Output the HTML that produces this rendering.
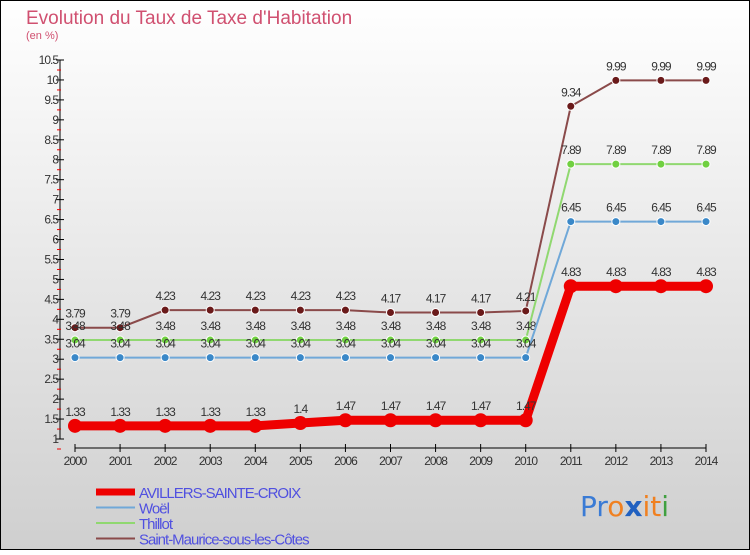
<!DOCTYPE html>
<html><head><meta charset="utf-8"><style>
body{margin:0;width:750px;height:550px;overflow:hidden;font-family:"Liberation Sans",sans-serif}
</style></head><body>
<svg id="c" width="750" height="550" xmlns="http://www.w3.org/2000/svg">
<defs><linearGradient id="bg" x1="0" y1="0" x2="0" y2="1"><stop offset="0" stop-color="#ffffff"/><stop offset="1" stop-color="#cfcfcf"/></linearGradient></defs>
<rect x="0.5" y="0.5" width="749" height="549" fill="url(#bg)" stroke="#000"/>
<text x="26" y="24" font-size="19" fill="#d05070">Evolution du Taux de Taxe d'Habitation</text>
<text x="26" y="39" font-size="11" fill="#d05070">(en %)</text>
<g id="axes"></g><g id="series"></g><g id="legend"></g>
<text x="580" y="516" font-size="28" font-family="'DejaVu Sans',sans-serif"><tspan fill="#3a7bd5">Pr</tspan><tspan fill="#f08020">o</tspan><tspan fill="#2060c0" font-weight="bold">x</tspan><tspan fill="#f08020">it</tspan><tspan fill="#40a040">i</tspan></text>
</svg>
<script>
const years=[2000,2001,2002,2003,2004,2005,2006,2007,2008,2009,2010,2011,2012,2013,2014];
const avillers=[1.33,1.33,1.33,1.33,1.33,1.4,1.47,1.47,1.47,1.47,1.47,4.83,4.83,4.83,4.83];
const woel=[3.04,3.04,3.04,3.04,3.04,3.04,3.04,3.04,3.04,3.04,3.04,6.45,6.45,6.45,6.45];
const thillot=[3.48,3.48,3.48,3.48,3.48,3.48,3.48,3.48,3.48,3.48,3.48,7.89,7.89,7.89,7.89];
const stmaurice=[3.79,3.79,4.23,4.23,4.23,4.23,4.23,4.17,4.17,4.17,4.21,9.34,9.99,9.99,9.99];
const yTicks=[1,1.5,2,2.5,3,3.5,4,4.5,5,5.5,6,6.5,7,7.5,8,8.5,9,9.5,10,10.5];
const NS="http://www.w3.org/2000/svg";
const X=i=>75+i*(706-75)/(years.length-1);
const Y=v=>439-(v-1)*(439-60)/9.5;
function mk(p,t,a){const e=document.createElementNS(NS,t);for(const k in a)e.setAttribute(k,a[k]);p.appendChild(e);return e;}
const ax=document.getElementById('axes');
const yl=mk(ax,'line',{x1:60,y1:60,x2:60,y2:439,stroke:'#000'});


yTicks.forEach(v=>{
 const t=mk(ax,'line',{x1:56,x2:64,y1:Y(v),y2:Y(v),stroke:'#000'});
 
 
 const m=mk(ax,'line',{x1:57,x2:61,y1:Y(v)+10,y2:Y(v)+10,stroke:'#e00'});
 
 
 const l=mk(ax,'text',{x:58,y:Y(v)+4,'text-anchor':'end','font-size':12,fill:'#333','letter-spacing':'-1'});
 l.textContent=v;
 
 
});
const xl=mk(ax,'line',{x1:75,y1:448,x2:706,y2:448,stroke:'#000'});


years.forEach((y,i)=>{
 const t=mk(ax,'line',{x1:X(i),x2:X(i),y1:444,y2:452,stroke:'#000'});
 
 
 const l=mk(ax,'text',{x:X(i),y:465,'text-anchor':'middle','font-size':12,fill:'#333','letter-spacing':'-1'});
 l.textContent=y;
 
 
});
const sg=document.getElementById('series');
const defs=[
 {d:stmaurice,c:'#8a4a4a',pc:'#6a1a1a',w:2,r:4,n:'saint-maurice'},
 {d:thillot,c:'#90d870',pc:'#70d040',w:2,r:4,n:'thillot'},
 {d:woel,c:'#70a8d8',pc:'#3a88c8',w:2,r:4,n:'woel'},
 {d:avillers,c:'#ee0000',pc:'#ee0000',w:9,r:7,n:'avillers'}];
defs.forEach(s=>{
 const p=mk(sg,'polyline',{points:s.d.map((v,i)=>X(i)+','+Y(v)).join(' '),fill:'none',stroke:s.c,'stroke-width':s.w});
 
 
 s.d.forEach((v,i)=>{
  const c=mk(sg,'circle',{cx:X(i),cy:Y(v),r:s.r,fill:s.pc,stroke:'#fff','stroke-width':s.r>5?0:1});
  
  
  const l=mk(sg,'text',{x:X(i),y:Y(v)-10,'text-anchor':'middle','font-size':12,fill:'#333','letter-spacing':'-1'});
  l.textContent=v;
  
  
 });
});
const lg=document.getElementById('legend');
const leg=[['AVILLERS-SAINTE-CROIX','#ee0000',7],['Woël','#70a8d8',2],['Thillot','#90d870',2],['Saint-Maurice-sous-les-Côtes','#8a4a4a',2]];
leg.forEach((e,i)=>{
 const y=492+i*15.5;
 const l=mk(lg,'line',{x1:96,x2:135,y1:y,y2:y,stroke:e[1],'stroke-width':e[2]});
 
 
 const t=mk(lg,'text',{x:139,y:y+6,'font-size':15,fill:'#5050e0','letter-spacing':'-1'});
 t.textContent=e[0];
 
 
});
</script>
</body></html>
